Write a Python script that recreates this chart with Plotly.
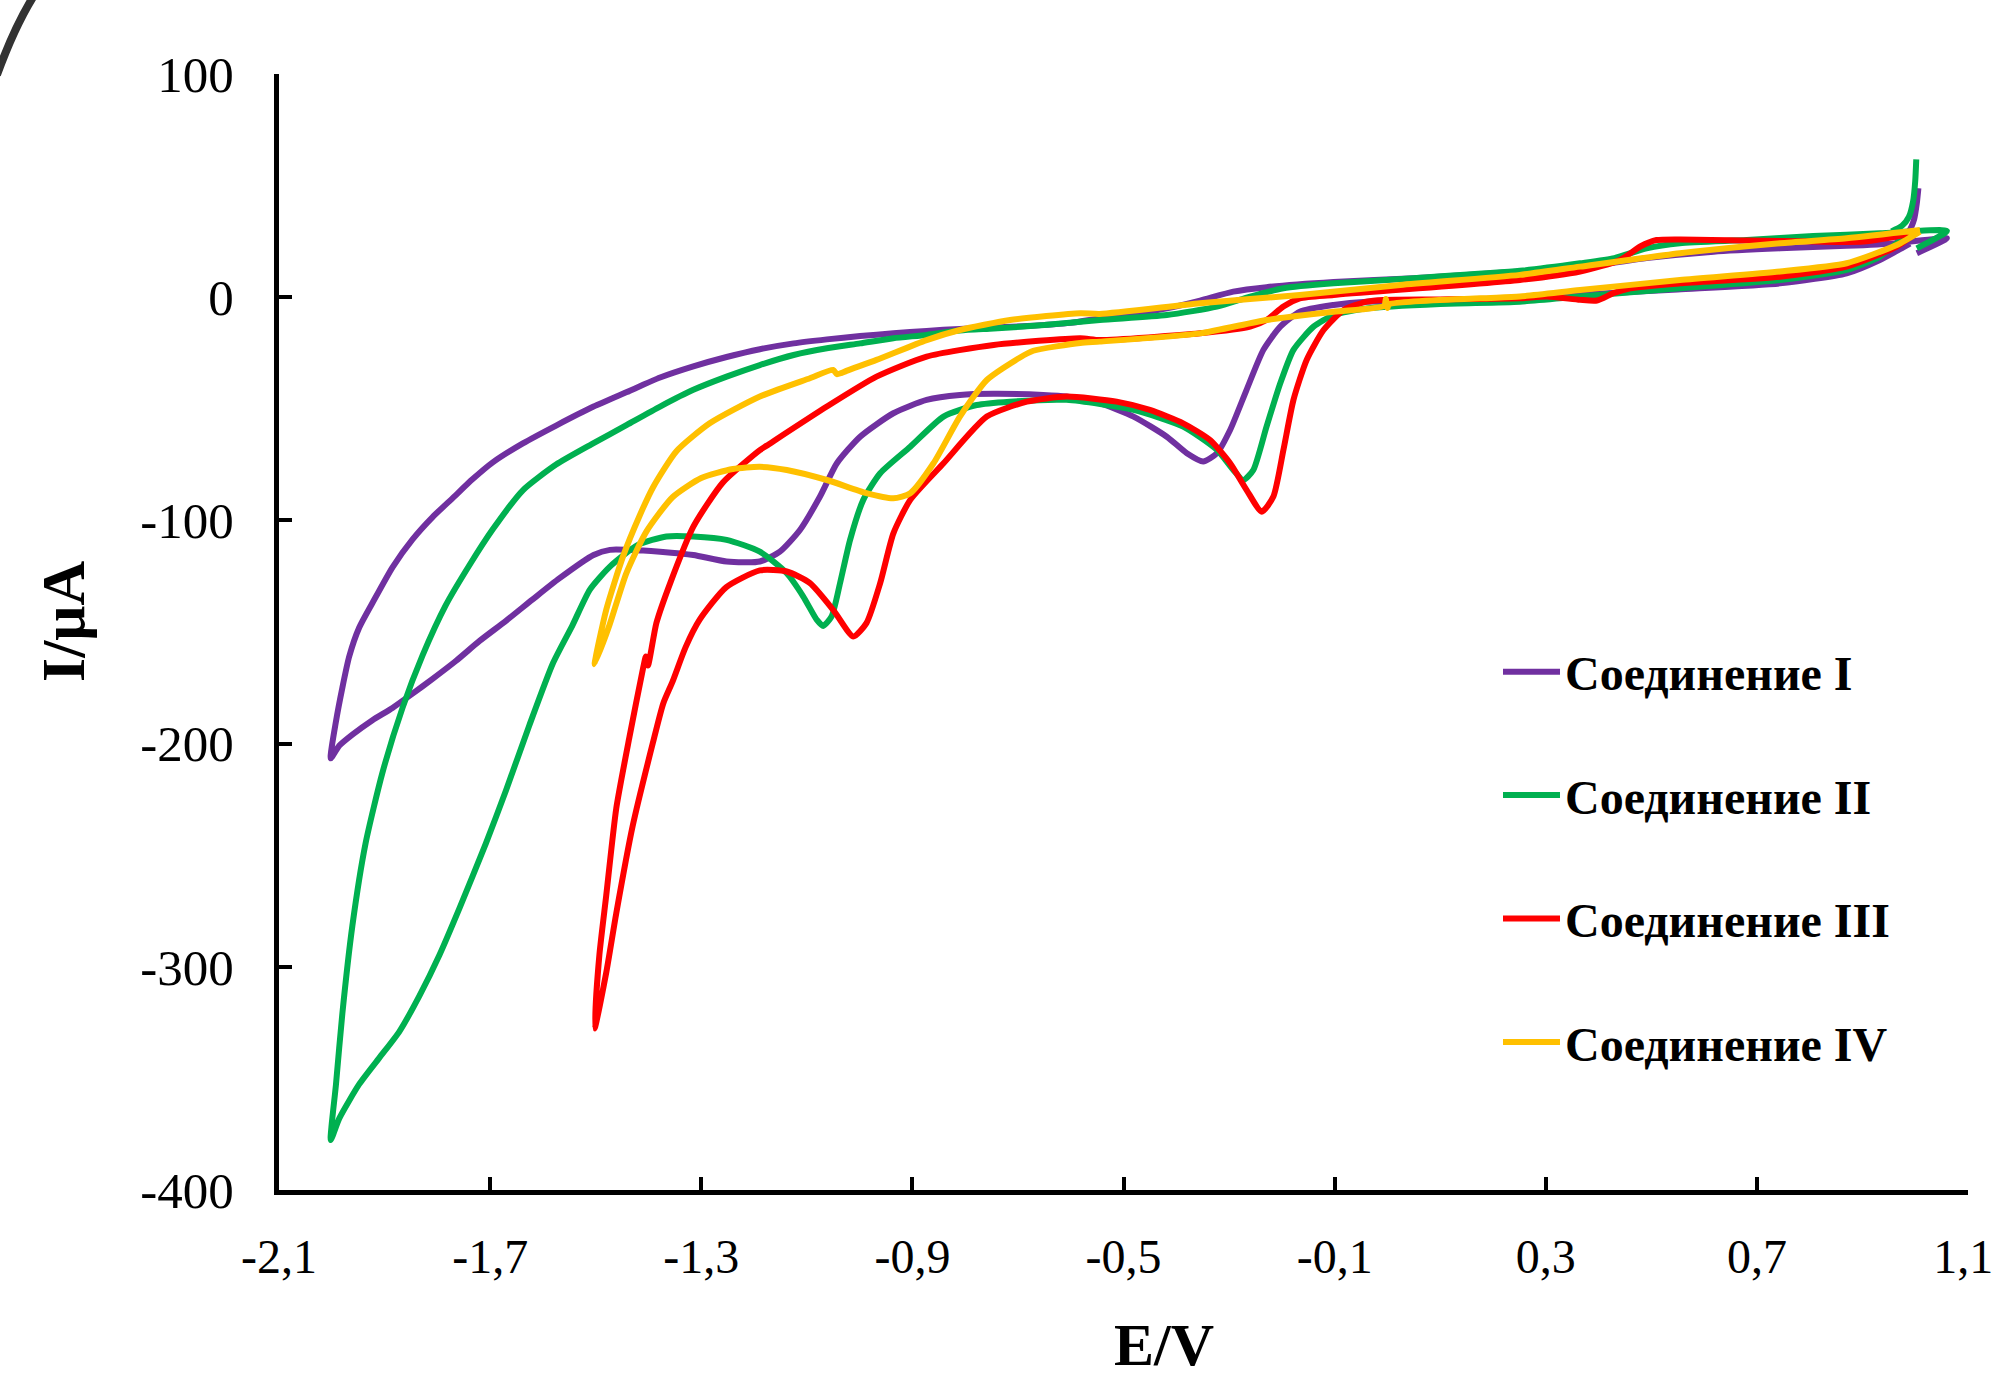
import plotly.graph_objects as go

# ---------------- data (E / V, I / uA) ----------------
names = ["Соединение I", "Соединение II", "Соединение III", "Соединение IV"]
colors = ["#7030A0", "#00B050", "#FF0000", "#FFC000"]

# Compound I (purple)
p_lower_E = [-2.002, -1.986, -1.961, -1.923, -1.885, -1.847, -1.809, -1.765, -1.720, -1.670, -1.620, -1.569,
             -1.504, -1.473, -1.410, -1.378, -1.315, -1.252, -1.189, -1.151, -1.113, -1.075, -1.043, -0.999,
             -0.936, -0.873, -0.810, -0.746, -0.652, -0.608, -0.545, -0.481, -0.418, -0.380, -0.349, -0.323,
             -0.298, -0.267, -0.235, -0.203, -0.166, -0.102, -0.039, 0.100, 0.250, 0.400, 0.550, 0.744,
             0.870, 0.933, 0.975, 0.990]
p_lower_I = [-206.6, -201.0, -196.0, -189.5, -184.0, -177.6, -171.0, -163.0, -154.0, -145.0, -135.5, -126.0,
             -115.5, -113.2, -113.5, -114.0, -115.5, -118.4, -118.4, -114.0, -104.3, -89.3, -74.4, -62.5,
             -52.0, -46.0, -43.8, -43.3, -43.8, -44.5, -47.5, -53.5, -62.5, -69.9, -73.6, -69.9,
             -59.5, -41.6, -23.6, -13.2, -6.5, -3.5, -2.0, -1.6, -0.6, 1.5, 3.5, 6.2,
             10.7, 16.7, 22.0, 24.0]
p_upper_E = [-2.002, -1.992, -1.980, -1.967, -1.948, -1.923, -1.885, -1.847, -1.809, -1.771, -1.733, -1.695,
             -1.638, -1.575, -1.504, -1.441, -1.378, -1.315, -1.252, -1.189, -1.125, -1.062, -0.999, -0.936,
             -0.873, -0.810, -0.746, -0.683, -0.600, -0.545, -0.480, -0.418, -0.355, -0.292, -0.229, -0.102,
             0.050, 0.251, 0.400, 0.491, 0.618, 0.744, 0.870, 0.965, 1.060]
p_upper_I = [-206.6, -190.0, -175.0, -161.0, -148.0, -137.0, -121.0, -108.5, -98.5, -90.0, -81.5, -74.0,
             -65.5, -57.5, -49.0, -42.5, -36.0, -31.0, -26.8, -23.3, -20.7, -18.9, -17.4, -16.2,
             -15.1, -14.2, -13.5, -12.9, -11.5, -9.5, -7.5, -5.0, -1.5, 2.5, 4.5, 6.8,
             8.5, 11.5, 14.5, 17.5, 20.4, 21.9, 23.0, 24.2, 26.4]
p_tail_E = [1.003]
p_tail_I = [19.7]
p_spike_E = [1.006, 1.003, 0.998, 0.988, 0.975, 0.962]
p_spike_I = [48.8, 42.0, 35.0, 29.5, 26.5, 25.0]

# Compound II (green)
g_lower_E = [-2.002, -1.986, -1.948, -1.910, -1.872, -1.834, -1.796, -1.758, -1.708, -1.670, -1.626, -1.581,
             -1.544, -1.511, -1.473, -1.420, -1.366, -1.315, -1.252, -1.189, -1.138, -1.107, -1.081, -1.069,
             -1.053, -1.037, -1.018, -0.993, -0.961, -0.904, -0.841, -0.778, -0.715, -0.608, -0.481, -0.387,
             -0.323, -0.292, -0.273, -0.254, -0.229, -0.203, -0.178, -0.140, -0.102, -0.039, 0.100, 0.251,
             0.365, 0.554, 0.744, 0.870, 0.933, 0.965, 0.990]
g_lower_I = [-377.6, -368.0, -352.6, -340.8, -329.0, -313.0, -294.7, -273.7, -244.7, -221.0, -192.0, -164.0,
             -147.0, -131.0, -120.7, -111.0, -107.2, -107.2, -108.7, -114.0, -123.7, -134.0, -144.6, -147.3,
             -143.0, -128.1, -108.7, -90.8, -78.9, -67.0, -53.5, -48.3, -46.8, -46.0, -50.5, -58.0,
             -68.4, -77.4, -81.9, -77.4, -58.0, -38.6, -23.6, -13.2, -8.0, -5.0, -3.0, -2.0,
             0.3, 4.0, 7.7, 12.2, 18.2, 24.2, 27.5]
g_upper_E = [-2.002, -1.992, -1.980, -1.961, -1.936, -1.904, -1.866, -1.828, -1.784, -1.739, -1.695, -1.638,
             -1.575, -1.504, -1.441, -1.378, -1.315, -1.252, -1.189, -1.125, -1.062, -0.999, -0.936, -0.873,
             -0.810, -0.746, -0.650, -0.545, -0.418, -0.323, -0.260, -0.197, -0.102, 0.050, 0.251, 0.365,
             0.430, 0.491, 0.554, 0.681, 0.807, 0.933, 1.060]
g_upper_I = [-377.6, -352.6, -321.0, -281.6, -244.7, -213.0, -184.0, -160.5, -138.0, -120.0, -104.0, -86.5,
             -75.0, -65.4, -57.2, -49.0, -41.5, -35.6, -30.4, -25.9, -22.9, -20.7, -18.4, -16.9,
             -14.9, -14.0, -12.5, -10.2, -8.0, -4.2, 0.3, 4.0, 6.2, 8.5, 11.8, 15.2,
             17.5, 21.9, 24.2, 25.6, 27.4, 28.6, 29.7]
g_tail_E = [1.003]
g_tail_I = [21.9]
g_spike_E = [1.002, 1.000, 0.996, 0.988, 0.975, 0.955]
g_spike_I = [61.8, 52.0, 43.0, 36.0, 32.0, 29.5]

# Compound III (red)
r_lower_E = [-1.502, -1.480, -1.461, -1.430, -1.392, -1.372, -1.354, -1.330, -1.303, -1.253, -1.189, -1.138,
             -1.094, -1.050, -1.012, -0.987, -0.961, -0.936, -0.904, -0.841, -0.759, -0.683, -0.608, -0.513,
             -0.450, -0.387, -0.336, -0.298, -0.267, -0.238, -0.216, -0.197, -0.178, -0.153, -0.121, -0.083,
             -0.039, -0.008, 0.100, 0.250, 0.302, 0.365, 0.397, 0.428, 0.460, 0.554, 0.744, 0.870,
             0.965, 1.000]
r_lower_I = [-327.6, -302.6, -276.0, -237.0, -200.0, -182.0, -172.0, -157.0, -144.5, -130.0, -122.4, -122.9,
             -128.1, -140.1, -152.0, -146.0, -128.1, -105.8, -90.8, -74.4, -53.5, -46.8, -44.5, -46.8,
             -50.5, -56.5, -64.0, -74.4, -86.3, -96.1, -89.3, -68.4, -46.0, -28.1, -14.7, -5.7,
             -2.0, -1.2, -1.0, -0.5, 0.3, -1.2, -1.5, 1.8, 4.0, 6.2, 9.2, 13.7,
             22.7, 28.5]
r_upper_E = [-1.502, -1.493, -1.480, -1.461, -1.436, -1.410, -1.405, -1.401, -1.385, -1.359, -1.315, -1.259,
             -1.189, -1.176, -1.062, -0.968, -0.873, -0.746, -0.582, -0.545, -0.355, -0.260, -0.229, -0.197,
             -0.166, -0.102, 0.251, 0.365, 0.441, 0.479, 0.510, 0.554, 0.681, 0.807, 0.902, 0.997,
             1.005]
r_upper_I = [-327.6, -294.7, -268.0, -229.0, -197.0, -166.0, -161.0, -165.0, -146.0, -128.2, -102.8, -83.0,
             -68.5, -66.5, -49.0, -35.6, -26.6, -21.4, -18.4, -19.2, -16.2, -13.2, -10.2, -4.2,
             -0.5, 1.0, 7.7, 11.5, 16.7, 22.7, 25.6, 25.9, 25.4, 24.9, 24.9, 28.6,
             29.0]

# Compound IV (yellow)
y_lower_E = [-1.502, -1.474, -1.442, -1.404, -1.354, -1.300, -1.240, -1.189, -1.138, -1.062, -0.987, -0.936,
             -0.904, -0.860, -0.810, -0.759, -0.696, -0.671, -0.582, -0.545, -0.355, -0.229, -0.102, -0.006,
             -0.003, 0.000, 0.003, 0.176, 0.251, 0.365, 0.554, 0.744, 0.870, 0.965, 1.009]
y_lower_I = [-164.5, -147.0, -123.7, -105.0, -89.5, -81.0, -77.0, -76.0, -77.4, -81.9, -87.8, -90.1,
             -87.8, -74.4, -53.5, -37.1, -27.0, -24.0, -20.5, -19.9, -16.2, -10.2, -6.5, -3.8,
             -0.8, -4.8, -3.2, -0.5, 0.3, 3.2, 7.7, 11.5, 15.2, 23.4, 29.4]
y_upper_E = [-1.502, -1.480, -1.448, -1.417, -1.391, -1.347, -1.284, -1.189, -1.094, -1.050, -1.043, -1.035,
             -1.025, -0.968, -0.873, -0.810, -0.715, -0.582, -0.545, -0.355, -0.166, 0.024, 0.251, 0.365,
             0.554, 0.744, 0.870, 1.009]
y_upper_I = [-164.5, -140.0, -116.0, -98.0, -85.0, -69.0, -56.5, -44.5, -36.3, -32.6, -34.5, -34.0,
             -33.0, -28.1, -19.2, -14.7, -10.2, -7.2, -7.5, -2.7, 1.0, 5.5, 10.0, 13.7,
             19.7, 24.2, 26.4, 30.1]

x_tick_vals = [-2.1, -1.7, -1.3, -0.9, -0.5, -0.1, 0.3, 0.7, 1.1]
x_tick_text = ["-2,1", "-1,7", "-1,3", "-0,9", "-0,5", "-0,1", "0,3", "0,7", "1,1\u2009"]
y_tick_vals = [-400, -300, -200, -100, 0, 100]
y_tick_text = ["-400", "-300", "-200", "-100", "0", "100"]


def loop(lower_E, lower_I, upper_E, upper_I, tail_E=(), tail_I=(), spike_E=(), spike_I=()):
    xs = list(lower_E[::-1]) + list(upper_E[1:]) + list(tail_E)
    ys = list(lower_I[::-1]) + list(upper_I[1:]) + list(tail_I)
    if spike_E:
        xs += [None] + list(spike_E)
        ys += [None] + list(spike_I)
    return xs, ys


curves = [
    loop(p_lower_E, p_lower_I, p_upper_E, p_upper_I, p_tail_E, p_tail_I, p_spike_E, p_spike_I),
    loop(g_lower_E, g_lower_I, g_upper_E, g_upper_I, g_tail_E, g_tail_I, g_spike_E, g_spike_I),
    loop(r_lower_E, r_lower_I, r_upper_E, r_upper_I),
    loop(y_lower_E, y_lower_I, y_upper_E, y_upper_I),
]

fig = go.Figure()
for i, (xs, ys) in enumerate(curves):
    fig.add_trace(go.Scatter(
        x=xs, y=ys, mode="lines", name="<b>" + names[i] + "</b>",
        legendgroup="g%d" % i,
        line=dict(color=colors[i], width=6, shape="spline", smoothing=0.6),
        connectgaps=False,
    ))

SERIF = "Liberation Serif, Times New Roman, serif"
L, R, T, B = 279, 1968, 74, 1190
W, H = 1995, 1380


def px(xp):
    return (xp - L) / (R - L)


def py(yp):
    return (B - yp) / (B - T)


fig.update_layout(
    width=W, height=H,
    margin=dict(l=L, r=W - R, t=T, b=H - B, pad=0, autoexpand=False),
    paper_bgcolor="white", plot_bgcolor="white",
    font=dict(family=SERIF, color="black"),
    showlegend=True,
    legend=dict(
        x=px(1498), y=py(634), xanchor="left", yanchor="top",
        font=dict(family=SERIF, size=48, color="black"),
        tracegroupgap=58, itemwidth=57, bgcolor="rgba(0,0,0,0)",
        traceorder="grouped",
    ),
    xaxis=dict(
        range=[-2.1, 1.1], tickvals=x_tick_vals, ticktext=x_tick_text,
        showgrid=False, zeroline=False, showline=True, linecolor="black", linewidth=5,
        ticks="inside", ticklen=13, tickwidth=3.5, tickcolor="black",
        tickfont=dict(family=SERIF, size=48, color="black"),
        ticklabelstandoff=20, ticklabeloverflow="allow", automargin=False,
    ),
    yaxis=dict(
        range=[-400, 100], tickvals=y_tick_vals, ticktext=y_tick_text,
        showgrid=False, zeroline=False, showline=True, linecolor="black", linewidth=5,
        ticks="inside", ticklen=13, tickwidth=3.5, tickcolor="black",
        tickfont=dict(family=SERIF, size=51, color="black"),
        ticklabelstandoff=30, ticklabeloverflow="allow", automargin=False,
    ),
    annotations=[
        dict(text="<b>I/μA</b>", x=px(63), y=py(621), xref="paper", yref="paper",
             xanchor="center", yanchor="middle", textangle=-90, showarrow=False,
             font=dict(family=SERIF, size=62, color="black")),
        dict(text="<b>E/V</b>", x=px(1164), y=py(1380), xref="paper", yref="paper",
             xanchor="center", yanchor="bottom", showarrow=False,
             font=dict(family=SERIF, size=60, color="black")),
    ],
    shapes=[
        dict(type="path", xref="paper", yref="paper",
             path="M %.4f,%.4f Q %.4f,%.4f %.4f,%.4f" % (px(33), py(-3), px(14), py(28), px(-3), py(75)),
             line=dict(color="#333333", width=8)),
    ],
)

fig.write_html("out.html", config={"displayModeBar": False},
               post_script="document.body.style.margin='0px';")
